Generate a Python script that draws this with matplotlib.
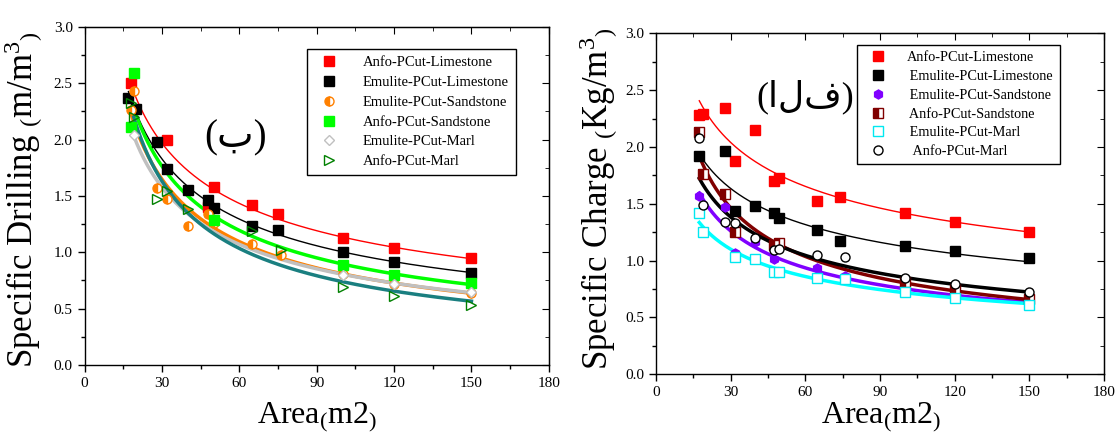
import numpy as np
import matplotlib
matplotlib.use('Agg')
import matplotlib.pyplot as plt
from matplotlib.ticker import MultipleLocator

plt.rcParams['font.family'] = ['Liberation Serif', 'DejaVu Sans']
plt.rcParams['mathtext.fontset'] = 'custom'
plt.rcParams['mathtext.rm'] = 'Liberation Serif'
plt.rcParams['mathtext.it'] = 'Liberation Serif'

# ---- left panel: specific drilling ----
dr_anfo_lime_x = [18, 32, 48, 50, 65, 75, 100, 120, 150]
dr_anfo_lime_y = [2.50, 2.00, 1.40, 1.58, 1.42, 1.34, 1.13, 1.04, 0.95]
dr_emu_lime_x = [17, 20, 28, 32, 40, 48, 50, 65, 75, 100, 120, 150]
dr_emu_lime_y = [2.37, 2.27, 1.98, 1.74, 1.55, 1.46, 1.39, 1.23, 1.20, 1.00, 0.91, 0.82]
dr_emu_sand_x = [19, 18, 28, 32, 40, 48, 50, 65, 76, 100, 120, 150]
dr_emu_sand_y = [2.43, 2.26, 1.57, 1.47, 1.23, 1.34, 1.26, 1.07, 0.98, 0.81, 0.72, 0.64]
dr_anfo_sand_x = [19, 18, 50, 100, 120, 150]
dr_anfo_sand_y = [2.59, 2.11, 1.29, 0.89, 0.80, 0.73]
dr_emu_marl_x = [19, 100, 120, 150]
dr_emu_marl_y = [2.04, 0.80, 0.72, 0.65]
dr_anfo_marl_x = [18, 19, 28, 32, 40, 65, 76, 100, 120, 150]
dr_anfo_marl_y = [2.32, 2.20, 1.47, 1.54, 1.38, 1.19, 1.02, 0.69, 0.61, 0.53]

# ---- right panel: specific charge ----
ch_anfo_lime_x = [17.4, 19, 27.7, 31.7, 39.7, 47.4, 49.6, 64.7, 73.8, 100, 120, 150]
ch_anfo_lime_y = [2.28, 2.29, 2.34, 1.88, 2.15, 1.70, 1.73, 1.52, 1.56, 1.42, 1.34, 1.25]
ch_emu_lime_x = [17.4, 27.7, 31.7, 39.7, 47.4, 49.6, 64.7, 73.8, 100, 120, 150]
ch_emu_lime_y = [1.92, 1.96, 1.44, 1.48, 1.42, 1.37, 1.27, 1.17, 1.13, 1.08, 1.02]
ch_emu_sand_x = [17.4, 27.7, 31.7, 39.7, 47.4, 64.7, 75.8, 100, 120, 150]
ch_emu_sand_y = [1.57, 1.47, 1.07, 1.16, 1.01, 0.93, 0.86, 0.74, 0.69, 0.63]
ch_anfo_sand_x = [17.4, 19, 27.7, 31.7, 47.4, 49.6, 100, 120, 150]
ch_anfo_sand_y = [2.13, 1.76, 1.59, 1.25, 1.14, 1.15, 0.81, 0.75, 0.66]
ch_emu_marl_x = [17.4, 19, 31.7, 39.7, 47.4, 49.6, 64.7, 75.8, 100, 120, 150]
ch_emu_marl_y = [1.42, 1.25, 1.03, 1.01, 0.90, 0.90, 0.85, 0.84, 0.72, 0.67, 0.61]
ch_anfo_marl_x = [17.4, 19, 27.7, 31.7, 39.7, 47.4, 49.6, 64.7, 75.8, 100, 120, 150]
ch_anfo_marl_y = [2.08, 1.49, 1.34, 1.33, 1.20, 1.09, 1.10, 1.05, 1.03, 0.85, 0.79, 0.72]


def power_fit(x, y):
    b, lna = np.polyfit(np.log(x), np.log(y), 1)
    xs = np.linspace(min(x), max(x), 200)
    return xs, np.exp(lna) * xs ** b


fig = plt.figure(figsize=(11.16, 4.33), dpi=100)
ax1 = fig.add_axes([0.0758, 0.157, 0.416, 0.781])
ax2 = fig.add_axes([0.5878, 0.136, 0.4014, 0.787])

ms = 6.5
# left panel
left_series = [
    (dr_anfo_lime_x, dr_anfo_lime_y, 'Anfo-PCut-Limestone', dict(marker='s', color='#ff0000', mec='#ff0000'), '#ff0000', 1.0),
    (dr_emu_lime_x, dr_emu_lime_y, 'Emulite-PCut-Limestone', dict(marker='s', color='black', mec='black'), 'black', 1.0),
    (dr_emu_sand_x, dr_emu_sand_y, 'Emulite-PCut-Sandstone', dict(marker='o', color='#ff8000', mec='#ff8000', fillstyle='left', markerfacecoloralt='white'), '#ff8000', 2.5),
    (dr_anfo_sand_x, dr_anfo_sand_y, 'Anfo-PCut-Sandstone', dict(marker='s', color='#00ff00', mec='#00ff00'), '#00ff00', 2.5),
    (dr_emu_marl_x, dr_emu_marl_y, 'Emulite-PCut-Marl', dict(marker='D', color='#c0c0c0', mfc='white', mec='#c0c0c0', ms=5.5), '#c0c0c0', 2.5),
    (dr_anfo_marl_x, dr_anfo_marl_y, 'Anfo-PCut-Marl', dict(marker='>', color='#008000', mfc='none', mec='#008000'), '#1a7f80', 2.5),
]
handles = []
for x, y, lab, st, lc, lw in left_series:
    xs, ys = power_fit(x, y)
    ax1.plot(xs, ys, color=lc, lw=lw, zorder=2)
    kw = dict(ms=ms, mew=1.0)
    kw.update(st)
    h, = ax1.plot(x, y, ls='none', label=lab, zorder=3, **kw)
    handles.append(h)
ax1.legend(handles=handles, loc='upper left', bbox_to_anchor=(0.48, 0.935), fontsize=10.5,
           frameon=True, fancybox=False, edgecolor='black', framealpha=1, borderpad=0.5,
           labelspacing=0.45, handletextpad=1.3, borderaxespad=0)
ax1.text(0.325, 0.672, '(ب)', transform=ax1.transAxes, ha='center', va='center',
         fontsize=28, family=['Liberation Serif', 'DejaVu Sans'])

# right panel
right_series = [
    (ch_anfo_lime_x, ch_anfo_lime_y, 'Anfo-PCut-Limestone', dict(marker='s', color='#ff0000', mec='#ff0000'), '#ff0000', 1.0),
    (ch_emu_lime_x, ch_emu_lime_y, ' Emulite-PCut-Limestone', dict(marker='s', color='black', mec='black'), 'black', 1.0),
    (ch_emu_sand_x, ch_emu_sand_y, ' Emulite-PCut-Sandstone', dict(marker='h', color='#8000ff', mec='#8000ff'), '#8000ff', 2.5),
    (ch_anfo_sand_x, ch_anfo_sand_y, ' Anfo-PCut-Sandstone', dict(marker='s', color='#800000', mec='#800000', fillstyle='left', markerfacecoloralt='white'), '#800000', 2.5),
    (ch_emu_marl_x, ch_emu_marl_y, ' Emulite-PCut-Marl', dict(marker='s', color='#00ffff', mfc='white', mec='#00e8f0'), '#00ffff', 2.5),
    (ch_anfo_marl_x, ch_anfo_marl_y, '  Anfo-PCut-Marl', dict(marker='o', color='black', mfc='white', mec='black'), 'black', 2.5),
]
handles = []
for x, y, lab, st, lc, lw in right_series:
    xs, ys = power_fit(x, y)
    ax2.plot(xs, ys, color=lc, lw=lw, zorder=2)
    kw = dict(ms=ms, mew=1.0)
    kw.update(st)
    h, = ax2.plot(x, y, ls='none', label=lab, zorder=3, **kw)
    handles.append(h)
ax2.legend(handles=handles, loc='upper left', bbox_to_anchor=(0.449, 0.966), fontsize=10.3,
           frameon=True, fancybox=False, edgecolor='black', framealpha=1, borderpad=0.45,
           labelspacing=0.4, handletextpad=1.0, borderaxespad=0)
ax2.text(0.333, 0.813, '(الف)', transform=ax2.transAxes, ha='center', va='center',
         fontsize=26, family=['Liberation Serif', 'DejaVu Sans'])

for ax in (ax1, ax2):
    ax.set_xlim(0, 180)
    ax.set_ylim(0, 3.0)
    ax.xaxis.set_major_locator(MultipleLocator(30))
    ax.xaxis.set_minor_locator(MultipleLocator(15))
    ax.yaxis.set_major_locator(MultipleLocator(0.5))
    ax.yaxis.set_minor_locator(MultipleLocator(0.25))
    ax.yaxis.set_major_formatter(plt.FormatStrFormatter('%.1f'))
    ax.tick_params(which='both', direction='out', top=False, right=False, labelsize=11)
    ax.tick_params(which='major', length=5, width=1)
    ax.tick_params(which='minor', length=3, width=1)
    sec = ax.secondary_xaxis('top')
    sec.xaxis.set_major_locator(MultipleLocator(30))
    sec.xaxis.set_minor_locator(MultipleLocator(15))
    sec.tick_params(which='both', direction='in', labeltop=False)
    sec.tick_params(which='major', length=5)
    sec.tick_params(which='minor', length=3)
    secy = ax.secondary_yaxis('right')
    secy.yaxis.set_major_locator(MultipleLocator(0.5))
    secy.yaxis.set_minor_locator(MultipleLocator(0.25))
    secy.tick_params(which='both', direction='in', labelright=False)
    secy.tick_params(which='major', length=5)
    secy.tick_params(which='minor', length=3)
    for s in ax.spines.values():
        s.set_linewidth(1.0)

fig.text(0.021, 0.54, r'Specific Drilling $_{(}$m/m$^{3}$$_{)}$', rotation=90,
         ha='center', va='center', fontsize=25)
fig.text(0.537, 0.54, r'Specific Charge $_{(}$Kg/m$^{3}$$_{)}$', rotation=90,
         ha='center', va='center', fontsize=25)
fig.text(0.284, 0.022, r'Area$_{(}$m2$_{)}$', ha='center', va='baseline', fontsize=23)
fig.text(0.790, 0.022, r'Area$_{(}$m2$_{)}$', ha='center', va='baseline', fontsize=23)

fig.savefig('out.png', dpi=100)
